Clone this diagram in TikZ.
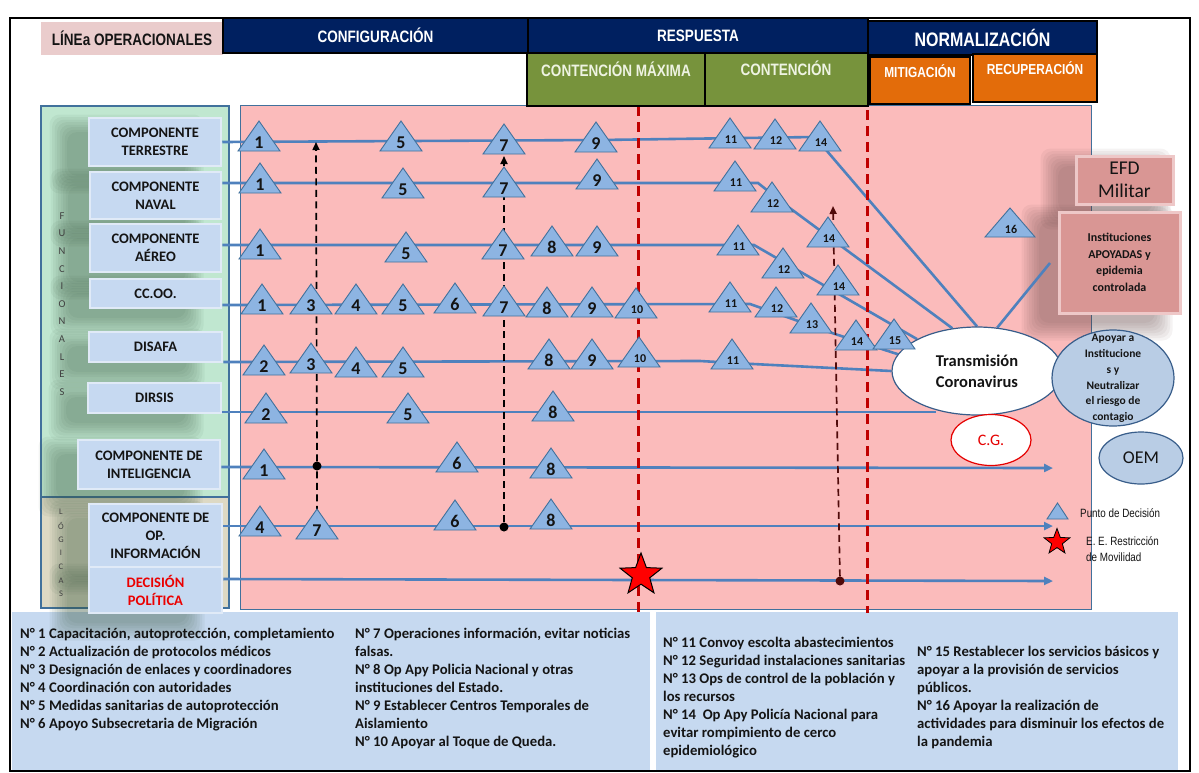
\documentclass[tikz,border=0pt]{standalone}
\usepackage{fontspec}
\setmainfont{Carlito}
\newfontfamily\hnarrow[FakeStretch=0.82]{Liberation Sans}
\usetikzlibrary{shapes.geometric,arrows.meta}
\pgfdeclarelayer{back}
\pgfdeclarelayer{lines}
\pgfsetlayers{back,lines,main}
\definecolor{navy}{RGB}{0,32,96}
\definecolor{hgreen}{RGB}{119,147,60}
\definecolor{horange}{RGB}{227,108,10}
\definecolor{hpink}{RGB}{234,204,204}
\definecolor{pinkarea}{RGB}{251,187,187}
\definecolor{panelgreen}{RGB}{192,231,208}
\definecolor{panelbeige}{RGB}{221,217,196}
\definecolor{panelblue}{RGB}{65,113,156}
\definecolor{compblue}{RGB}{198,217,241}
\definecolor{compedge}{RGB}{224,234,247}
\definecolor{legblue}{RGB}{198,217,240}
\definecolor{lineblue}{RGB}{79,129,189}
\definecolor{trifill}{RGB}{141,180,226}
\definecolor{triedge}{RGB}{65,113,156}
\definecolor{dred}{RGB}{192,0,0}
\definecolor{maroon}{RGB}{80,10,10}
\definecolor{efdfill}{RGB}{217,150,148}
\definecolor{efdedge}{RGB}{238,200,200}
\definecolor{ellblue}{RGB}{185,205,229}
\definecolor{elledge}{RGB}{56,93,138}
\definecolor{shadowc}{RGB}{55,85,60}
\definecolor{shadowr}{RGB}{95,65,65}
\definecolor{txt}{RGB}{20,20,20}
\definecolor{gtext}{RGB}{238,243,226}
\newcommand\tri[4]{%
  \filldraw[trishape] (#2-21,#3) -- (#2,#3-30) -- (#2+21,#3) -- cycle;
  \node[trinum] (#1) at (#2,#3-8.5) {#4};}
\newcommand\trs[4]{%
  \filldraw[trishape] (#2-21,#3) -- (#2,#3-30) -- (#2+21,#3) -- cycle;
  \node[trinumsm] (#1) at (#2+1,#3-8) {#4};}
\newcommand\softshadow[5]{%
  \foreach \sk in {0,...,7}{\fill[#1, opacity=0.06, rounded corners=10pt] (#2-\sk*2.5,#3-\sk*2.5) rectangle (#4+\sk*2.5,#5+\sk*2.5);}}
\begin{document}
\begin{tikzpicture}[x=1pt,y=-1pt,
  hdrbox/.style={font=\hnarrow\bfseries\fontsize{16.5}{19}\selectfont, inner sep=0, outer sep=0},
  hdrtxt/.style={font=\hnarrow\bfseries\fontsize{16.5}{19}\selectfont, inner sep=0},
  hdrtxts/.style={font=\hnarrow\bfseries\fontsize{14.5}{17}\selectfont, inner sep=0, text=white},
  boxg/.style={fill=hgreen, draw=black, line width=1.5pt, inner sep=0},
  boxo/.style={fill=horange, draw=black, line width=1.5pt, inner sep=0},
  comp/.style={fill=compblue, draw=compedge, line width=2.5pt, align=center, inner sep=0, text=txt,
    font=\bfseries\fontsize{14.5}{18}\selectfont},
  vlet/.style={font=\fontsize{10.5}{12}\selectfont, text=black!75, inner sep=0},
  vlets/.style={font=\fontsize{8.5}{10}\selectfont, text=black!75, inner sep=0},
  rowline/.style={draw=lineblue, line width=2.6pt},
  rowarrow/.style={rowline, -{Triangle[length=9pt,width=8pt]}},
  trishape/.style={fill=trifill, draw=triedge, line width=0.9pt, line join=miter},
  trinum/.style={font=\bfseries\fontsize{18}{18}\selectfont, text=txt, inner sep=0},
  trinumsm/.style={font=\bfseries\fontsize{12}{12}\selectfont, text=txt, inner sep=0},
  reddash/.style={draw=dred, line width=3pt, dash pattern=on 10pt off 6pt},
  bdash/.style={draw=black, line width=1.7pt, dash pattern=on 7pt off 4.5pt, -{Triangle[length=8pt,width=7pt]}},
  mdash/.style={draw=maroon, line width=1.7pt, dash pattern=on 7pt off 4.5pt, -{Triangle[length=8pt,width=7pt]}},
  dot/.style={circle, fill=black, minimum size=9pt, inner sep=0},
  efdbox/.style={fill=efdfill, draw=efdedge, line width=3pt, align=center, inner sep=0, text=txt},
  legtxt/.style={font=\bfseries\fontsize{14.7}{18}\selectfont, text=txt, align=left, inner sep=0, anchor=north west}
]
\useasboundingbox (0,0) rectangle (1199,772);

% ---------- background layer ----------
\begin{pgfonlayer}{back}
\fill[white] (0,0) rectangle (1199,772);
\fill[legblue] (12,612) rectangle (650,770);
\fill[legblue] (656,612) rectangle (1178,770);
\draw[panelblue, fill=panelgreen, line width=1.2pt] (41,106) rectangle (229,497);
\draw[panelblue, fill=panelbeige, line width=1.2pt] (41,497) rectangle (229,608);
\draw[panelblue, fill=pinkarea, line width=1pt] (240,105) rectangle (1091,609);
\softshadow{shadowc}{67}{132}{186}{176}
\softshadow{shadowc}{68}{186}{186}{229}
\softshadow{shadowc}{68}{238}{186}{282}
\softshadow{shadowc}{68}{293}{186}{318}
\softshadow{shadowc}{67}{346}{187}{372}
\softshadow{shadowc}{66}{397}{186}{423}
\softshadow{shadowc}{56}{454}{185}{499}
\softshadow{shadowc}{67}{518}{187}{577}
\softshadow{shadowc}{67}{581}{187}{623}
\softshadow{shadowr}{1058}{166}{1153}{212}
\softshadow{shadowr}{1039}{222}{1155}{323}
\draw[black, line width=1.5pt] (10,18) rectangle (1190,771);
\end{pgfonlayer}

% ---------- header ----------
\node[hdrbox, fill=hpink, minimum width=182pt, minimum height=33pt, text=txt] (lin) at (132,38) {LÍNEa OPERACIONALES};
\node[hdrbox, fill=navy, draw=black, line width=1.5pt, minimum width=305pt, minimum height=35pt, text=white] (conf) at (375.5,35.5) {CONFIGURACIÓN};
\node[hdrbox, fill=navy, draw=black, line width=1.5pt, minimum width=340pt, minimum height=35pt, text=white] (resp) at (698,35.5) {RESPUESTA};
\node[hdrbox, fill=navy, draw=black, line width=1.5pt, minimum width=229pt, minimum height=34pt, text=white,
  font=\hnarrow\bfseries\fontsize{19.5}{22}\selectfont] (norm) at (982.5,38) {NORMALIZACIÓN};
\node[boxg, minimum width=178pt, minimum height=53pt] (cmax) at (616,79.5) {};
\node[hdrtxt, text=gtext] (cmaxt) at (616,69) {CONTENCIÓN MÁXIMA};
\node[boxg, minimum width=163pt, minimum height=53pt] (cont) at (786.5,79.5) {};
\node[hdrtxt, text=gtext] (contt) at (786,68) {CONTENCIÓN};
\node[boxo, minimum width=100pt, minimum height=47pt] (mitig) at (920,80.5) {};
\node[hdrtxts] (mitigt) at (920,71) {MITIGACIÓN};
\node[boxo, minimum width=124pt, minimum height=48pt] (recup) at (1035,78) {};
\node[hdrtxts] (recupt) at (1035,68) {RECUPERACIÓN};

% ---------- vertical letters ----------
\foreach \L [count=\i] in {F,U,N,C,I,O,N,A,L,E,S}
  \node[vlet] (fl\i) at (62,{216+(\i-1)*17.6}) {\L};
\foreach \L [count=\i] in {L,Ó,G,I,C,A,S}
  \node[vlets] (gl\i) at (61,{512+(\i-1)*13.7}) {\L};

% ---------- component boxes ----------
\node[comp, minimum width=132pt, minimum height=48pt] (terr) at (155,142) {COMPONENTE\\TERRESTRE};
\node[comp, minimum width=131pt, minimum height=47pt] (naval) at (155.5,195.5) {COMPONENTE\\NAVAL};
\node[comp, minimum width=131pt, minimum height=48pt] (aereo) at (155.5,248) {COMPONENTE\\AÉREO};
\node[comp, minimum width=131pt, minimum height=29pt] (ccoo) at (155.5,293.5) {CC.OO.};
\node[comp, minimum width=133pt, minimum height=30pt] (disafa) at (155.5,347) {DISAFA};
\node[comp, minimum width=133pt, minimum height=30pt] (dirsis) at (154.5,398) {DIRSIS};
\node[comp, minimum width=142pt, minimum height=49pt] (intel) at (149,464.5) {COMPONENTE DE\\INTELIGENCIA};
\node[comp, minimum width=133pt, minimum height=63pt] (opinf) at (155.5,535.5) {COMPONENTE DE\\OP.\\INFORMACIÓN};
\node[comp, minimum width=133pt, minimum height=46pt, text=red!92!black] (decis) at (155.5,590) {DECISIÓN\\POLÍTICA};

% ---------- right side objects ----------
\node[ellipse, fill=white, draw=elledge, line width=1.2pt, minimum width=170pt, minimum height=88pt, inner sep=0,
  align=center, font=\bfseries\fontsize{16.5}{21}\selectfont, text=txt] (trans) at (977,371) {Transmisión\\Coronavirus};
\node[ellipse, fill=ellblue, draw=elledge, line width=1.2pt, minimum width=122pt, minimum height=96pt, inner sep=0] (apoy) at (1113,378) {};
\node[align=center, inner sep=0, font=\bfseries\fontsize{11.5}{15.8}\selectfont, text=txt] (apoyt) at (1113,378.5)
  {Apoyar a\\Institucione\\s y\\Neutralizar\\el riesgo de\\contagio};
\node[ellipse, fill=white, draw=red!90!black, line width=1.2pt, minimum width=80pt, minimum height=51pt, inner sep=0,
  font=\fontsize{16}{18}\selectfont, text=red!90!black] (cg) at (991,440) {C.G.};
\node[ellipse, fill=ellblue, draw=elledge, line width=1.2pt, minimum width=84pt, minimum height=52pt, inner sep=0,
  font=\fontsize{18}{20}\selectfont, text=txt] (oem) at (1141,458) {OEM};
\node[efdbox, minimum width=97pt, minimum height=48pt, font=\fontsize{19.5}{23}\selectfont] (efdm) at (1124.5,180) {EFD\\Militar};
\node[efdbox, minimum width=121pt, minimum height=101pt, font=\bfseries\fontsize{12}{16.5}\selectfont] (inst) at (1119.5,262.5)
  {Instituciones\\APOYADAS y\\epidemia\\controlada};
\coordinate (instend) at (1050,263);
\coordinate (end7) at (1053,468);
\coordinate (end8) at (1053,526);
\coordinate (end9) at (1053,581);
\coordinate (a1end) at (316,142);
\coordinate (a2end) at (504,156);
\coordinate (a3end) at (833,206);

% dots
\node[dot] (dot1) at (317,466) {};
\node[dot] (dot2) at (504,527) {};
\node[dot, fill=maroon] (dot3) at (840,581) {};

% ---------- triangles ----------
\tri{r1a}{259}{151}{1} \tri{r1b}{401}{151}{5} \tri{r1c}{504}{154}{7} \tri{r1d}{596}{152}{9}
\trs{r1e}{730}{148}{11} \trs{r1f}{775}{149}{12} \trs{r1g}{820}{151}{14}
\tri{r2a}{260}{193}{1} \tri{r2b}{403}{198}{5} \tri{r2c}{504}{197}{7} \tri{r2d}{597}{189}{9}
\trs{r2e}{735}{191}{11} \trs{r2f}{772}{212}{12} \trs{r2g}{828}{247}{14}
\tri{r3a}{260}{259}{1} \tri{r3b}{406}{262}{5} \tri{r3c}{503}{259}{7} \tri{r3d}{552}{256}{8} \tri{r3e}{597}{256}{9}
\trs{r3f}{738}{255}{11} \trs{r3g}{783}{278}{12} \trs{r3h}{838}{295}{14}
\tri{r4a}{262}{314}{1} \tri{r4b}{311}{314}{3} \tri{r4c}{356}{314}{4} \tri{r4d}{403}{314}{5} \tri{r4e}{455}{313}{6}
\tri{r4f}{504}{316}{7} \tri{r4g}{547}{317}{8} \tri{r4h}{592}{317}{9} \trs{r4i}{636}{318}{10}
\trs{r4j}{730}{312}{11} \trs{r4k}{776}{317}{12} \trs{r4l}{811}{333}{13} \trs{r4m}{856}{350}{14} \trs{r4n}{894}{349}{15}
\tri{r5a}{264}{375}{2} \tri{r5b}{311}{373}{3} \tri{r5c}{356}{377}{4} \tri{r5d}{403}{377}{5}
\tri{r5e}{549}{369}{8} \tri{r5f}{592}{369}{9} \trs{r5g}{639}{367}{10} \trs{r5h}{732}{369}{11}
\tri{r6a}{266}{423}{2} \tri{r6b}{408}{423}{5} \tri{r6c}{553}{421}{8}
\tri{r7a}{264}{479}{1} \tri{r7b}{457}{472}{6} \tri{r7c}{551}{478}{8}
\tri{r8a}{260}{536}{4} \tri{r8b}{317}{539}{7} \tri{r8c}{455}{530}{6} \tri{r8d}{551}{529}{8}
\filldraw[trishape] (985,237) -- (1010,208) -- (1035,237) -- cycle;
\node[trinumsm] (t16) at (1011,229) {16};

% star
\node[star, star points=5, star point ratio=2.4, fill=red, draw=black, line width=1pt, minimum size=44pt, inner sep=0] (stara) at (641,575) {};

% ---------- legend right ----------
\filldraw[trishape] (1047,519) -- (1057.5,503) -- (1068,519) -- cycle;
\node[anchor=west, inner sep=0, font=\hnarrow\fontsize{12}{14}\selectfont, text=txt] (pdd) at (1080,513) {Punto de Decisión};
\node[star, star points=5, star point ratio=2.4, fill=red, draw=black, line width=0.8pt, minimum size=27pt, inner sep=0] (starb) at (1057,542) {};
\node[anchor=north west, align=left, inner sep=0, font=\hnarrow\fontsize{12}{16}\selectfont, text=txt] (eer) at (1086,536) {E. E. Restricción\\de Movilidad};

% ---------- legend text ----------
\node[legtxt] (legA) at (20,625.4) {\strut N° 1 Capacitación, autoprotección, completamiento\\N° 2 Actualización de protocolos médicos\\N° 3 Designación de enlaces y coordinadores\\N° 4 Coordinación con autoridades\\N° 5 Medidas sanitarias de autoprotección\\N° 6 Apoyo Subsecretaria de Migración};
\node[legtxt] (legB) at (355,625.4) {\strut N° 7 Operaciones información, evitar noticias\\falsas.\\N° 8 Op Apy Policia Nacional y otras\\instituciones del Estado.\\N° 9 Establecer Centros Temporales de\\Aislamiento\\N° 10 Apoyar al Toque de Queda.};
\node[legtxt] (legC) at (663,634.4) {\strut N° 11 Convoy escolta abastecimientos\\N° 12 Seguridad instalaciones sanitarias\\N° 13 Ops de control de la población y\\los recursos\\N° 14~ Op Apy Policía Nacional para\\evitar rompimiento de cerco\\epidemiológico};
\node[legtxt] (legD) at (917,643.4) {\strut N° 15 Restablecer los servicios básicos y\\apoyar a la provisión de servicios\\públicos.\\N° 16 Apoyar la realización de\\actividades para disminuir los efectos de\\la pandemia};

% ---------- connectors ----------
\begin{pgfonlayer}{lines}
\draw[rowline] (terr.east |- 0,142) -- (600,140) -- (815,137) -- (trans.north);
\draw[rowline] (naval.east |- 0,183) -- (758,183) -- (787,206) -- (trans.120);
\draw[rowline] (aereo.east |- 0,245) -- (754,245) -- (trans.152);
\draw[rowline] (ccoo.east |- 0,305) -- (750,304) -- (835,334) -- (trans.168);
\draw[rowline] (disafa.east |- 0,362) -- (700,361) -- (753,364) -- (trans.west);
\draw[rowline] (dirsis.east |- 0,412) -- (trans.224 |- 0,412);
\draw[rowarrow] (intel.east |- 0,467) -- (end7);
\draw[rowarrow] (opinf.east |- 0,526) -- (end8);
\draw[rowarrow] (decis.east |- 0,579) -- (end9);
\draw[rowline] (trans.65) -- (instend);
\draw[reddash] (638,106) -- (638,612);
\draw[reddash] (867,110) -- (867,613);
\draw[bdash] (r8b.north) -- (dot1) -- (a1end);
\draw[bdash] (dot2) -- (a2end);
\draw[mdash] (dot3) -- (a3end);
\end{pgfonlayer}
\end{tikzpicture}
\end{document}
